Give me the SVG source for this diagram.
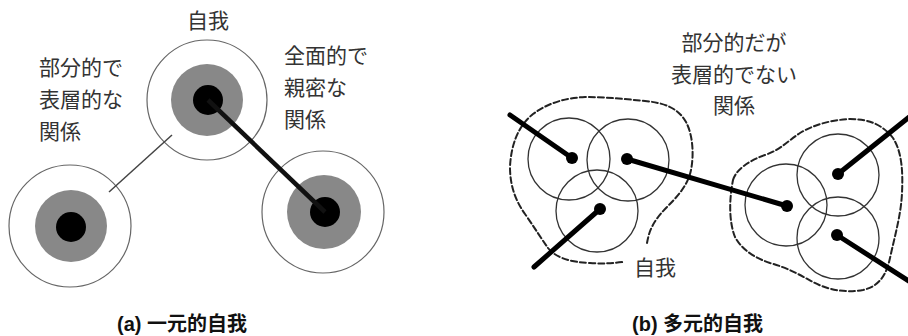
<svg xmlns="http://www.w3.org/2000/svg" width="908" height="336" viewBox="0 0 908 336">
<style>
.lbl{font-family:"Noto Sans CJK JP","Noto Sans",sans-serif;font-size:21px;fill:#333}
.cap{font-family:"Liberation Sans","Noto Sans CJK JP",sans-serif;font-size:20px;font-weight:bold;fill:#111}
.outer{fill:#fff;stroke:#666;stroke-width:1.2}
.mid{fill:#888}
.core{fill:#000}
.ring{fill:none;stroke:#333;stroke-width:1.3}
.dot{fill:#000}
.blob{fill:none;stroke:#222;stroke-width:2;stroke-dasharray:6 3;stroke-linecap:round}
.thick{stroke:#000;stroke-width:5;stroke-linecap:round}
</style>
<rect width="908" height="336" fill="#fff"/>
<g id="self-top">
  <circle class="outer" cx="207" cy="100" r="60"/>
  <circle class="mid" cx="207" cy="100" r="36"/>
  <circle class="core" cx="208" cy="100" r="15"/>
</g>
<g id="self-left">
  <circle class="outer" cx="70" cy="226" r="61"/>
  <circle class="mid" cx="71" cy="226" r="36"/>
  <circle class="core" cx="71" cy="227" r="15"/>
</g>
<g id="self-right">
  <circle class="outer" cx="323" cy="212" r="61"/>
  <circle class="mid" cx="324" cy="212" r="37"/>
  <circle class="core" cx="325" cy="212" r="15"/>
</g>
<g id="cluster-left">
  <path class="blob" d="M647,243 C649,232 652,222 667,207 C678,196 688,185 691,170 C694,155 693,135 686,122 C678,108 665,103 645,101 C625,99 605,97 585,97 C565,98 548,103 533,114 C518,126 511,145 510,167 C510,185 515,200 525,214 C534,227 541,238 548,248 C556,258 570,262 590,263 C603,264 615,263 623,262"/>
  <circle class="ring" cx="569" cy="159" r="41"/>
  <circle class="ring" cx="628" cy="160" r="41"/>
  <circle class="ring" cx="597" cy="211" r="41"/>
  <circle class="dot" cx="572" cy="158" r="6"/>
  <circle class="dot" cx="627" cy="159" r="6"/>
  <circle class="dot" cx="600" cy="209" r="6"/>
</g>
<g id="cluster-right">
  <path class="blob" d="M733,180 C736,170 748,161 765,155 C780,150 788,141 800,133 C815,124 832,120 850,119 C868,119 882,124 893,138 C902,152 903,172 902,193 C901,215 895,235 890,258 C887,272 881,286 863,290 C845,293 828,290 813,282 C800,275 788,268 770,263 C755,258 742,250 735,237 C729,222 729,200 733,180 Z"/>
  <circle class="ring" cx="786" cy="205" r="41"/>
  <circle class="ring" cx="838" cy="175" r="41"/>
  <circle class="ring" cx="838" cy="238" r="41"/>
  <circle class="dot" cx="787" cy="206" r="6"/>
  <circle class="dot" cx="838" cy="174" r="6"/>
  <circle class="dot" cx="837" cy="235" r="6"/>
</g>
<g id="connectors">
  <line x1="172" y1="135" x2="109" y2="192" stroke="#444" stroke-width="1.5"/>
  <line x1="208" y1="100" x2="325" y2="212" stroke="#111" stroke-width="4.5"/>
  <line class="thick" x1="572" y1="158" x2="510" y2="115"/>
  <line class="thick" x1="600" y1="209" x2="534" y2="267"/>
  <line class="thick" x1="627" y1="159" x2="787" y2="206"/>
  <line class="thick" x1="838" y1="174" x2="918" y2="110"/>
  <line class="thick" x1="837" y1="235" x2="918" y2="287"/>
</g>
<g id="labels-a">
  <text class="lbl" x="208" y="28" text-anchor="middle">自我</text>
  <text class="lbl" x="39" y="75">部分的で</text>
  <text class="lbl" x="39" y="107">表層的な</text>
  <text class="lbl" x="39" y="139">関係</text>
  <text class="lbl" x="284" y="63">全面的で</text>
  <text class="lbl" x="284" y="95">親密な</text>
  <text class="lbl" x="284" y="127">関係</text>
</g>
<g id="labels-b">
  <text class="lbl" x="734" y="50" text-anchor="middle">部分的だが</text>
  <text class="lbl" x="734" y="82" text-anchor="middle">表層的でない</text>
  <text class="lbl" x="734" y="113" text-anchor="middle">関係</text>
  <text class="lbl" x="634" y="275">自我</text>
</g>
<g id="captions">
  <text class="cap" x="117" y="331">(a) 一元的自我</text>
  <text class="cap" x="632" y="331">(b) 多元的自我</text>
</g>
</svg>
